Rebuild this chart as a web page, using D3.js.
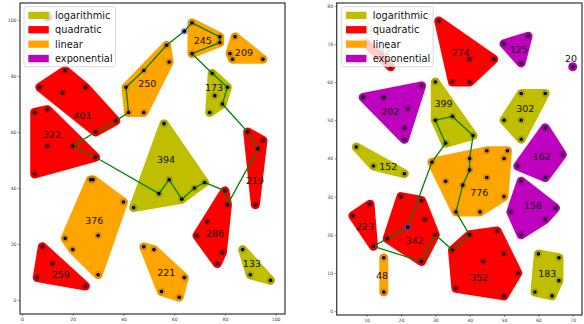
<!DOCTYPE html>
<html><head><meta charset="utf-8">
<script src="https://cdn.jsdelivr.net/npm/d3@7/dist/d3.min.js"></script>
<style>body{margin:0;background:#fff}svg{display:block}text{font-family:"DejaVu Sans",sans-serif}</style>
</head><body><svg id="c" width="584" height="324"></svg>
<script>
// ---------- data ----------
const typeNames = ['logarithmic','quadratic','linear','exponential'];
const typeColors = ['#bfbf00','#ff0000','#ffa500','#bf00bf'];

// left panel
const leftXTicks = [0,20,40,60,80,100];
const leftYTicks = [0,20,40,60,80,100];
const leftLabels = ['401','322','250','245','209','173','219','394','286','133','221','376','259','25'];
const leftTypes = ['quadratic','quadratic','linear','linear','linear','logarithmic','quadratic','logarithmic','quadratic','logarithmic','linear','linear','quadratic','exponential'];
const leftPoints = [
  [[17,82],[7,76],[16,74],[25,76],[37,64],[29,60]],
  [[5,67],[10,68],[10,55],[20,55],[29,51],[5,45]],
  [[57,91],[58,85],[48,82],[41,76],[42,67],[48,67]],
  [[67,99],[78,94],[78,92],[67,88]],
  [[84,94],[82,88],[83,86],[95,86]],
  [[75,81],[81,76],[76,73],[79,70],[74,67]],
  [[89,60],[95,57],[93,54],[92,34]],
  [[56,63],[58,43],[54,38],[63,36],[68,40],[72,42],[44,33]],
  [[80,39],[81,34],[73,28],[69,23],[79,17],[77,13]],
  [[87,18],[90,9],[98,7]],
  [[48,19],[52,18],[64,8],[55,3],[62,1]],
  [[27,43],[28,43],[40,35],[17,22],[30,23],[20,18],[30,9]],
  [[8,19],[12,13],[6,8],[25,5]],
  [[10,101]]
];
const leftLabelPos = [[23.9,65.8],[11.8,59.2],[49.4,77.4],[71.3,92.6],[87.5,88.4],[75.7,76],[91.9,42.6],[56.8,50.1],[76.1,23.7],[90.6,13],[56.9,9.8],[28.5,28.3],[15.3,9],[9.7,101.5]];
const leftDepot = [64,96];
const leftRoute = [[64,96],[57,91],[48,82],[41,76],[42,67],[37,64],[29,60],[20,55],[29,51],[54,38],[58,43],[63,36],[68,40],[72,42],[80,39],[81,34],[93,54],[89,60],[79,70],[81,76],[75,81],[67,88],[78,92],[78,94],[67,99],[64,96]];

// right panel
const rightXTicks = [10,20,30,40,50,60,70];
const rightYTicks = [0,10,20,30,40,50,60,70,80];
const rightLabels = ['82','274','125','20','302','202','399','162','158','776','152','223','342','48','352','183'];
const rightTypes = ['quadratic','quadratic','exponential','exponential','logarithmic','exponential','logarithmic','exponential','exponential','linear','logarithmic','quadratic','quadratic','linear','quadratic','logarithmic'];
const rightPoints = [
  [[10,70],[17,64]],
  [[31,76],[40,66],[47,66],[35,60],[40,60]],
  [[57,72],[50,70],[55,65]],
  [[70,64]],
  [[55,57],[62,57],[50,50],[55,50],[55,45]],
  [[9,56],[15,56],[26,59],[22,53],[21,48],[21,45]],
  [[30,60],[35,51],[30,50],[41,46],[33,44]],
  [[62,48],[67,41],[54,38],[62,35]],
  [[55,34],[65,27],[52,26],[62,24],[55,20]],
  [[45,42],[51,42],[40,40],[50,40],[29,39],[40,37],[45,35],[33,34],[38,33],[50,30],[36,26],[43,26]],
  [[7,43],[12,38],[21,36]],
  [[11,28],[6,25],[12,17]],
  [[20,30],[26,29],[27,24],[16,19],[30,20],[26,13]],
  [[15,14],[15,5]],
  [[40,20],[48,21],[35,16],[50,15],[44,13],[54,10],[36,6],[50,4]],
  [[60,15],[66,14],[66,8],[59,5],[64,4]]
];
const rightLabelPos = [[15.3,68],[37.4,67.8],[54.3,68.6],[69.5,66.2],[56.2,53.1],[16.9,52.2],[32.4,54.4],[61,40.5],[58.4,27.8],[42.8,31.2],[16.3,37.9],[9.5,22.1],[24,18.5],[14.5,9.3],[42.8,8.9],[62.6,9.8]];
const rightDepot = [22,22];
const rightRoute = [[22,22],[29,39],[33,44],[30,50],[35,51],[41,46],[40,40],[40,37],[38,33],[36,26],[40,20],[35,16],[30,20],[26,13],[12,17],[16,19],[22,22]];

// ---------- drawing ----------
const svg = d3.select('#c');
const color = d3.scaleOrdinal().domain(typeNames).range(typeColors);

function panel(cfg){
  const x = d3.scaleLinear().domain(cfg.xDomain).range([cfg.left, cfg.right]);
  const y = d3.scaleLinear().domain(cfg.yDomain).range([cfg.bottom, cfg.top]);
  const g = svg.append('g');
  // hulls
  cfg.points.forEach((pts,i)=>{
    const px = pts.map(p=>[x(p[0]),y(p[1])]);
    let d;
    if(px.length>=3){ const h=d3.polygonHull(px); d='M'+h.map(p=>p.join(',')).join('L')+'Z'; }
    else if(px.length===2){ d='M'+px[0].join(',')+'L'+px[1].join(','); }
    else { d='M'+px[0].join(',')+'L'+(px[0][0]+0.01)+','+px[0][1]; }
    g.append('path').attr('d',d).attr('fill',color(cfg.types[i])).attr('stroke',color(cfg.types[i]))
      .attr('stroke-width',9).attr('stroke-linejoin','round').attr('stroke-linecap','round');
  });
  // point halos
  cfg.points.forEach((pts,i)=>{
    g.selectAll(null).data(pts).enter().append('circle')
      .attr('cx',d=>x(d[0])).attr('cy',d=>y(d[1])).attr('r',3.8).attr('fill','#000').attr('fill-opacity',0.13);
  });
  // route
  g.append('path').datum(cfg.route).attr('d',d3.line().x(d=>x(d[0])).y(d=>y(d[1])))
    .attr('fill','none').attr('stroke','#008000').attr('stroke-width',1.3);
  // depot
  g.append('circle').attr('cx',x(cfg.depot[0])).attr('cy',y(cfg.depot[1])).attr('r',3.3)
    .attr('fill','#3344ff').attr('fill-opacity',0.6);
  // points
  cfg.points.forEach((pts,i)=>{
    g.selectAll(null).data(pts).enter().append('circle')
      .attr('cx',d=>x(d[0])).attr('cy',d=>y(d[1])).attr('r',1.8).attr('fill','#000');
  });
  g.append('circle').attr('cx',x(cfg.depot[0])).attr('cy',y(cfg.depot[1])).attr('r',1.8).attr('fill','#000');
  // labels
  g.selectAll(null).data(cfg.labels).enter().append('text')
    .attr('x',(d,i)=>x(cfg.labelPos[i][0])).attr('y',(d,i)=>y(cfg.labelPos[i][1]))
    .attr('text-anchor','middle').attr('dominant-baseline','central')
    .attr('font-size',9.5).attr('fill','#111').text(d=>d);
  // axes
  const xa = g.append('g').attr('transform',`translate(0,${cfg.bottom})`)
    .call(d3.axisBottom(x).tickValues(cfg.xTicks).tickSize(2).tickPadding(1.5));
  const ya = g.append('g').attr('transform',`translate(${cfg.left},0)`)
    .call(d3.axisLeft(y).tickValues(cfg.yTicks).tickSize(2).tickPadding(1.5));
  [xa,ya].forEach(a=>{
    a.select('.domain').remove();
    a.selectAll('line').attr('stroke','#444').attr('stroke-width',0.6);
    a.selectAll('text').attr('font-size',4.6).attr('fill','#444').attr('font-family','DejaVu Sans');
  });
  g.append('rect').attr('x',cfg.left).attr('y',cfg.top).attr('width',cfg.right-cfg.left).attr('height',cfg.bottom-cfg.top)
    .attr('fill','none').attr('stroke','#333').attr('stroke-width',1.2);
  // legend
  const lg = g.append('g').attr('transform',`translate(${cfg.legX},${cfg.legY})`);
  lg.append('rect').attr('width',91.5).attr('height',60).attr('rx',2.5)
    .attr('fill','#fff').attr('fill-opacity',0.8).attr('stroke','#d0d0d0').attr('stroke-width',0.8);
  typeNames.forEach((t,i)=>{
    lg.append('rect').attr('x',4.3).attr('y',5+i*14.4).attr('width',20.5).attr('height',7.3).attr('fill',color(t));
    lg.append('text').attr('x',31).attr('y',8.7+i*14.4).attr('dominant-baseline','central')
      .attr('font-size',9.8).attr('fill','#111').text(t);
  });
}

panel({xDomain:[-0.8,103.7], yDomain:[-5,106.1], left:20, right:285, top:3, bottom:314,
  points:leftPoints, types:leftTypes, labels:leftLabels, labelPos:leftLabelPos,
  route:leftRoute, depot:leftDepot, xTicks:leftXTicks, yTicks:leftYTicks, legX:24, legY:6.7});
panel({xDomain:[1.3,72.7], yDomain:[-1,80.7], left:336.7, right:582, top:3, bottom:315,
  points:rightPoints, types:rightTypes, labels:rightLabels, labelPos:rightLabelPos,
  route:rightRoute, depot:rightDepot, xTicks:rightXTicks, yTicks:rightYTicks, legX:341.7, legY:6.7});
</script></body></html>
